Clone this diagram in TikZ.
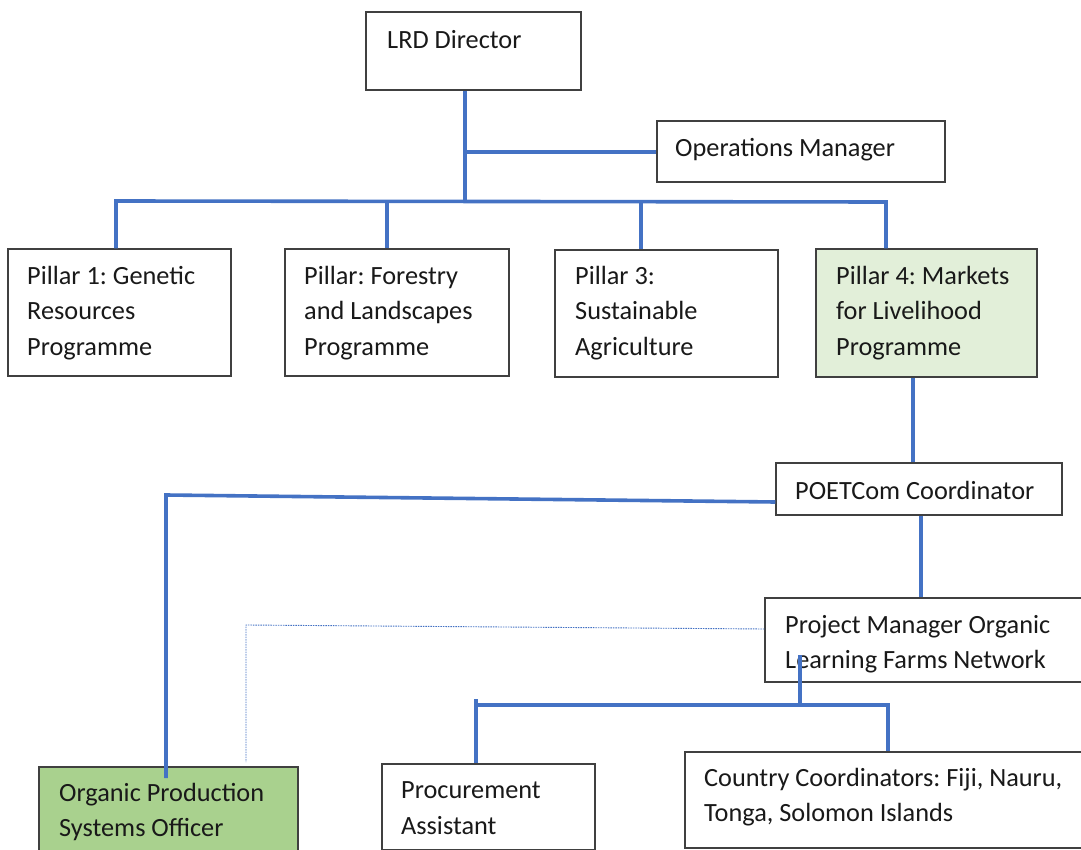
\documentclass[tikz,border=0pt]{standalone}
\usepackage{fontspec}
\setmainfont{Carlito}
\frenchspacing
\definecolor{lineblue}{HTML}{4472C4}
\definecolor{lightgreen}{HTML}{E2EFD9}
\definecolor{midgreen}{HTML}{A9D18E}
\definecolor{boxline}{HTML}{404040}
\begin{document}
\begin{tikzpicture}[x=1pt,y=-1pt,
  box/.style={draw=boxline, line width=1.3pt, inner sep=0pt},
  txt/.style={inner sep=0pt, anchor=west, align=left, text=black!90,
    font=\fontsize{26.3}{35.5}\selectfont},
  conn/.style={draw=lineblue, line width=3.6pt},
  dotconn/.style={draw=lineblue, line width=0.9pt, dash pattern=on 1.5pt off 1pt}]
\useasboundingbox (0,0) rectangle (1081,850);
\clip (0,0) rectangle (1081,850);
\fill[white] (0,0) rectangle (1081,850);

% boxes
\node[box, minimum width=215, minimum height=78] (lrd) at (473.5,51) {};
\node[box, minimum width=288, minimum height=61] (om) at (801,151.5) {};
\node[box, minimum width=223, minimum height=127] (p1) at (119.5,312.5) {};
\node[box, minimum width=224, minimum height=127] (p2) at (397,312.5) {};
\node[box, minimum width=223, minimum height=127] (p3) at (666.5,313.5) {};
\node[box, fill=lightgreen, minimum width=221, minimum height=128] (p4) at (926.5,313) {};
\node[box, minimum width=286, minimum height=52] (poet) at (919,489) {};
\node[box, minimum width=330, minimum height=84] (pm) at (930,640) {};
\node[box, fill=midgreen, minimum width=259, minimum height=86] (opso) at (168.5,810) {};
\node[box, minimum width=213, minimum height=86] (proc) at (488.5,807) {};
\node[box, minimum width=410, minimum height=96] (cc) at (890,800) {};

% texts
\node[txt] (lrdt) at (387,40) {LRD Director};
\node[txt] (omt) at (675,150) {Operations Manager};
\node[txt] (p1t) at (27,313) {Pillar 1: Genetic\\Resources\\Programme};
\node[txt] (p2t) at (304,313) {Pillar: Forestry\\and Landscapes\\Programme};
\node[txt] (p3t) at (575,313) {Pillar 3:\\Sustainable\\Agriculture};
\node[txt] (p4t) at (836,313) {Pillar 4: Markets\\for Livelihood\\Programme};
\node[txt] (poett) at (795,490) {POETCom Coordinator};
\node[txt] (pmt) at (785,644) {Project Manager Organic\\Learning Farms Network};
\node[txt] (opsot) at (59,812) {Organic Production\\Systems Officer};
\node[txt] (proct) at (401,808) {Procurement\\Assistant};
\node[txt] (cct) at (704,797) {Country Coordinators: Fiji, Nauru,\\Tonga, Solomon Islands};

% junction coordinates
\coordinate (j0) at (465,201);
\coordinate (omj) at (465,152);
\coordinate (b1l) at (116,201);
\coordinate (b1r) at (886,202);
\coordinate (d2) at (387,201);
\coordinate (d3) at (641,201);
\coordinate (p4d) at (913,0);
\coordinate (pl) at (921,0);
\coordinate (poetl) at (166,495);
\coordinate (opsoend) at (166,778);
\coordinate (dotc) at (246,625);
\coordinate (dotend) at (246,762);
\coordinate (pmstart) at (800,655);
\coordinate (b2m) at (800,705);
\coordinate (b2l) at (476,705);
\coordinate (b2tick) at (476,699);
\coordinate (b2r) at (888,705);

% connectors
\draw[conn] (lrd.south -| j0) -- (j0);
\draw[conn] (omj) -- (om.west |- omj);
\draw[conn] (b1l |- p1.north) -- (b1l) -- (b1r) -- (b1r |- p4.north);
\draw[conn] (d2) -- (d2 |- p2.north);
\draw[conn] (d3) -- (d3 |- p3.north);
\draw[conn] (p4.south -| p4d) -- (poet.north -| p4d);
\draw[conn] ([yshift=-13pt]poet.west) -- (poetl) -- (opsoend);
\draw[conn] (poet.south -| pl) -- (pm.north -| pl);
\draw[dotconn] ([yshift=11pt]pm.west) -- (dotc) -- (dotend);
\draw[conn] (pmstart) -- (b2m);
\draw[conn] (b2tick) -- (proc.north -| b2l);
\draw[conn] (b2l) -- (b2r) -- (cc.north -| b2r);
\end{tikzpicture}
\end{document}
